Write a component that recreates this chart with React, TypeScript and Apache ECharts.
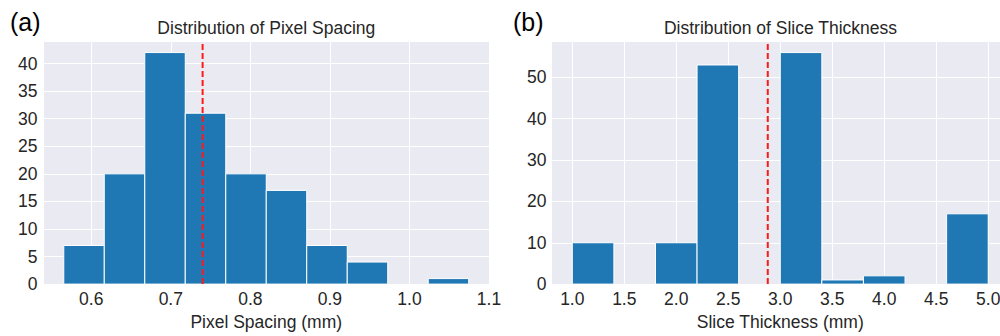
import React, { useEffect, useRef } from "react";
import * as echarts from "echarts";

// Pixel Spacing histogram (panel a)
const psBinEdges = [0.5655, 0.6164, 0.6673, 0.7182, 0.7691, 0.82, 0.8709, 0.9218, 0.9727, 1.0236, 1.0745];
const psCounts = [7, 20, 42, 31, 20, 17, 7, 4, 0, 1];
const psMean = 0.74;
const psXTicks = [0.6, 0.7, 0.8, 0.9, 1.0, 1.1];
const psYTicks = [0, 5, 10, 15, 20, 25, 30, 35, 40];

// Slice Thickness histogram (panel b)
const stBinEdges = [1.0, 1.4, 1.8, 2.2, 2.6, 3.0, 3.4, 3.8, 4.2, 4.6, 5.0];
const stCounts = [10, 0, 10, 53, 0, 56, 1, 2, 0, 17];
const stMean = 2.88;
const stXTicks = [1.0, 1.5, 2.0, 2.5, 3.0, 3.5, 4.0, 4.5, 5.0];
const stYTicks = [0, 10, 20, 30, 40, 50];

const titles = ["Distribution of Pixel Spacing", "Distribution of Slice Thickness"];
const xNames = ["Pixel Spacing (mm)", "Slice Thickness (mm)"];
const panelLabels = ["(a)", "(b)"];

const FONT = "'Liberation Sans', Arial, sans-serif";
const TXT = "#262626";
const FS = 17.5;

function histData(edges: number[], counts: number[]) {
  const out: number[][] = [];
  counts.forEach((c, i) => {
    if (c > 0) out.push([edges[i], edges[i + 1], c]);
  });
  return out;
}

function tickFormatter(ticks: number[], digits: number) {
  return (v: number) => (ticks.some((t) => Math.abs(t - v) < 1e-6) ? v.toFixed(digits) : "");
}

const renderHist = (params: any, api: any) => {
  const x0 = api.value(0);
  const x1 = api.value(1);
  const y = api.value(2);
  const p0 = api.coord([x0, y]);
  const p1 = api.coord([x1, 0]);
  return {
    type: "rect",
    shape: { x: p0[0], y: p0[1], width: p1[0] - p0[0], height: p1[1] - p0[1] },
    style: { fill: "#1f77b4", stroke: "#ffffff", lineWidth: 1 },
  };
};

export default function App() {
  const ref = useRef<HTMLDivElement>(null);
  useEffect(() => {
    document.body.style.margin = "0";
    const chart = echarts.init(ref.current!, null, { renderer: "svg" });
    const psMax = Math.max(...psCounts) * 1.05;
    const stMax = Math.max(...stCounts) * 1.05;
    const axisCommon = {
      axisLine: { show: false },
      axisTick: { show: false },
      splitLine: { show: true, lineStyle: { color: "#ffffff", width: 1 } },
    };
    const labelCommon = { color: TXT, fontSize: FS, fontFamily: FONT };
    chart.setOption({
      animation: false,
      textStyle: { fontFamily: FONT },
      grid: [
        { left: 43.5, top: 41, width: 445.5, height: 249, show: true, backgroundColor: "#eaeaf2", borderWidth: 0 },
        { left: 551.5, top: 41, width: 458, height: 249, show: true, backgroundColor: "#eaeaf2", borderWidth: 0 },
      ],
      xAxis: [
        {
          type: "value", gridIndex: 0, min: 0.54, max: 1.1, minInterval: 0.1, maxInterval: 0.1,
          ...axisCommon,
          axisLabel: { ...labelCommon, margin: 6, formatter: tickFormatter(psXTicks, 1) },
          name: xNames[0], nameLocation: "middle", nameGap: 26,
          nameTextStyle: { ...labelCommon },
        },
        {
          type: "value", gridIndex: 1, min: 0.8, max: 5.2, minInterval: 0.5, maxInterval: 0.5,
          ...axisCommon,
          axisLabel: { ...labelCommon, margin: 6, formatter: tickFormatter(stXTicks, 1) },
          name: xNames[1], nameLocation: "middle", nameGap: 26,
          nameTextStyle: { ...labelCommon },
        },
      ],
      yAxis: [
        {
          type: "value", gridIndex: 0, min: 0, max: psMax, interval: 5,
          ...axisCommon,
          axisLabel: { ...labelCommon, margin: 6, formatter: tickFormatter(psYTicks, 0) },
        },
        {
          type: "value", gridIndex: 1, min: 0, max: stMax, interval: 10,
          ...axisCommon,
          axisLabel: { ...labelCommon, margin: 5, formatter: tickFormatter(stYTicks, 0) },
        },
      ],
      series: [
        {
          type: "custom", xAxisIndex: 0, yAxisIndex: 0, renderItem: renderHist,
          encode: { x: [0, 1], y: 2 }, data: histData(psBinEdges, psCounts), z: 2,
        },
        {
          type: "custom", xAxisIndex: 1, yAxisIndex: 1, renderItem: renderHist,
          encode: { x: [0, 1], y: 2 }, data: histData(stBinEdges, stCounts), z: 2,
        },
        {
          type: "line", xAxisIndex: 0, yAxisIndex: 0, symbol: "none", z: 5,
          data: [[psMean, 0], [psMean, psMax]],
          lineStyle: { color: "#ff1a1a", width: 2, type: [6, 3] },
        },
        {
          type: "line", xAxisIndex: 1, yAxisIndex: 1, symbol: "none", z: 5,
          data: [[stMean, 0], [stMean, stMax]],
          lineStyle: { color: "#ff1a1a", width: 2, type: [6, 3] },
        },
      ],
      graphic: [
        { type: "text", x: 266.3, y: 28, style: { text: titles[0], fill: TXT, font: `${FS}px ${FONT}`, align: "center", verticalAlign: "middle" } },
        { type: "text", x: 780.5, y: 28, style: { text: titles[1], fill: TXT, font: `${FS}px ${FONT}`, align: "center", verticalAlign: "middle" } },
        { type: "text", x: 10, y: 22, style: { text: panelLabels[0], fill: "#000", font: `25px ${FONT}`, align: "left", verticalAlign: "middle" } },
        { type: "text", x: 513, y: 22, style: { text: panelLabels[1], fill: "#000", font: `25px ${FONT}`, align: "left", verticalAlign: "middle" } },
      ],
    });
    return () => chart.dispose();
  }, []);
  return (
    <div style={{ width: 1000, height: 336, overflow: "hidden", position: "relative" }}>
      <div ref={ref} style={{ width: 1012, height: 336 }} />
    </div>
  );
}
